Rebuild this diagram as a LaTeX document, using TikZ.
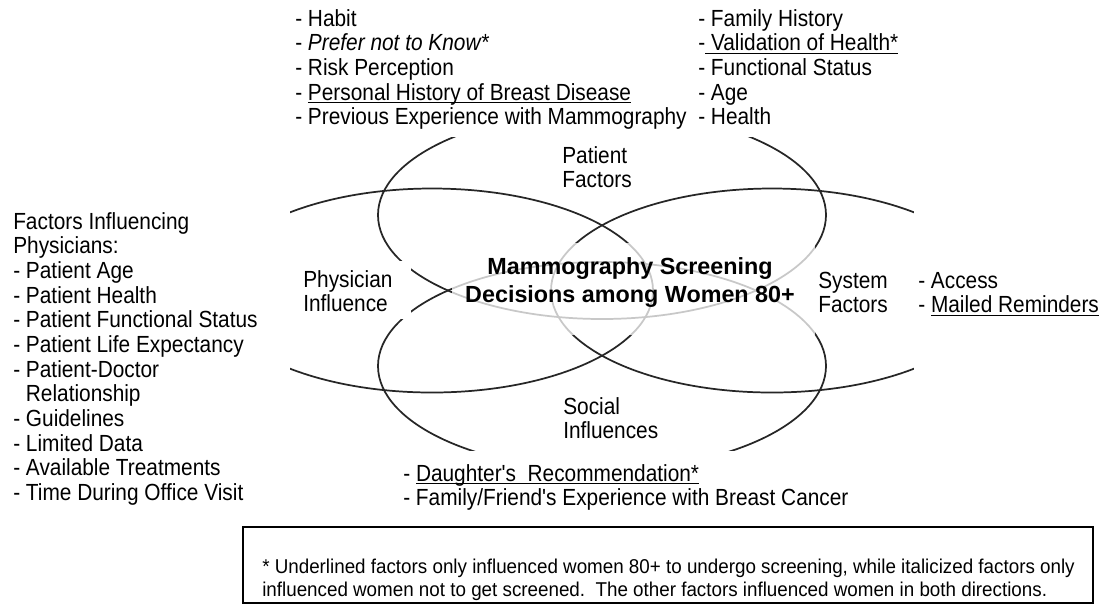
\documentclass[tikz,border=0pt]{standalone}
\usepackage{fontspec}
\setmainfont{Liberation Sans}[FakeStretch=0.893, Ligatures=TeXOff]
\newfontfamily\titlefont{Liberation Sans}
\newfontfamily\footfont{Liberation Sans}[FakeStretch=0.94]
\newlength{\ulw}
\newcommand{\uln}[1]{\settowidth{\ulw}{#1}\rlap{\rule[-2.35pt]{\ulw}{0.75pt}}#1}
\newcommand{\mylist}[1]{\begin{tabular}[t]{@{}l@{}}#1\end{tabular}}
\tikzset{
  bigell/.style={draw=black!85, line width=1.3pt},
  maskbox/.style={fill=white, draw=none},
  lbl/.style={anchor=base west, inner sep=0pt, font=\fontsize{17.5pt}{18.5pt}\selectfont},
}
\begin{document}
\begin{tikzpicture}[x=0.75pt,y=-0.75pt]
\fill[white] (0,0) rectangle (1102,612);
\useasboundingbox (0,0) rectangle (1102,612);
% four overlapping ellipses
\draw[bigell] (602,215) ellipse [x radius=168pt, y radius=78pt];
\draw[bigell] (602,366) ellipse [x radius=168pt, y radius=78pt];
\draw[bigell] (432,290.5) ellipse [x radius=165.75pt, y radius=76.5pt];
\draw[bigell] (772,290.5) ellipse [x radius=165.75pt, y radius=76.5pt];
% opaque label backgrounds
\fill[maskbox] (270,0) rectangle (935,137);
\fill[maskbox] (0,195) rectangle (290,515);
\fill[maskbox] (914,195) rectangle (1102,385);
\fill[maskbox] (390,451) rectangle (875,520);
\fill[maskbox] (295,261) rectangle (411,319);
% translucent title background
\fill[white, opacity=0.75] (452,243) rectangle (815,335);
% texts
\node[lbl] (plist) at (295,26) {\mylist{- Habit\\- \textit{Prefer not to Know*}\\- Risk Perception\\- \uln{Personal History of Breast Disease}\\- Previous Experience with Mammography}};
\node[lbl] (flist) at (698,26) {\mylist{- Family History\\-\uln{\ Validation of Health*}\\- Functional Status\\- Age\\- Health}};
\node[lbl] (physlist) at (13,229) {\mylist{Factors Influencing\\Physicians:\\- Patient Age\\- Patient Health\\- Patient Functional Status\\- Patient Life Expectancy\\- Patient-Doctor\\\hspace*{9.5pt}Relationship\\- Guidelines\\- Limited Data\\- Available Treatments\\- Time During Office Visit}};
\node[anchor=base, inner sep=0pt, font=\titlefont\bfseries\fontsize{17.5pt}{21pt}\selectfont] (title) at (630,274) {\begin{tabular}[t]{@{}c@{}}Mammography Screening\\Decisions among Women 80+\end{tabular}};
\node[lbl] (pat) at (562,163) {\mylist{Patient\\Factors}};
\node[lbl] (soc) at (563,414) {\mylist{Social\\Influences}};
\node[lbl] (phy) at (303,287) {\mylist{Physician\\Influence}};
\node[lbl] (sys) at (818,288) {\mylist{System\\Factors}};
\node[lbl] (acc) at (918,288) {\mylist{- Access\\- \uln{Mailed Reminders}}};
\node[lbl] (soclist) at (403,481) {\mylist{- \uln{Daughter's\ \ Recommendation*}\\- Family/Friend's Experience with Breast Cancer}};
% footnote box
\draw[line width=0.9pt] (243,527) rectangle (1093,603);
\node[anchor=base west, inner sep=0pt, font=\footfont\fontsize{15pt}{17.25pt}\selectfont] (note) at (262,573) {\mylist{* Underlined factors only influenced women 80+ to undergo screening, while italicized factors only\\influenced women not to get screened.\ \ The other factors influenced women in both directions.}};
\end{tikzpicture}
\end{document}
